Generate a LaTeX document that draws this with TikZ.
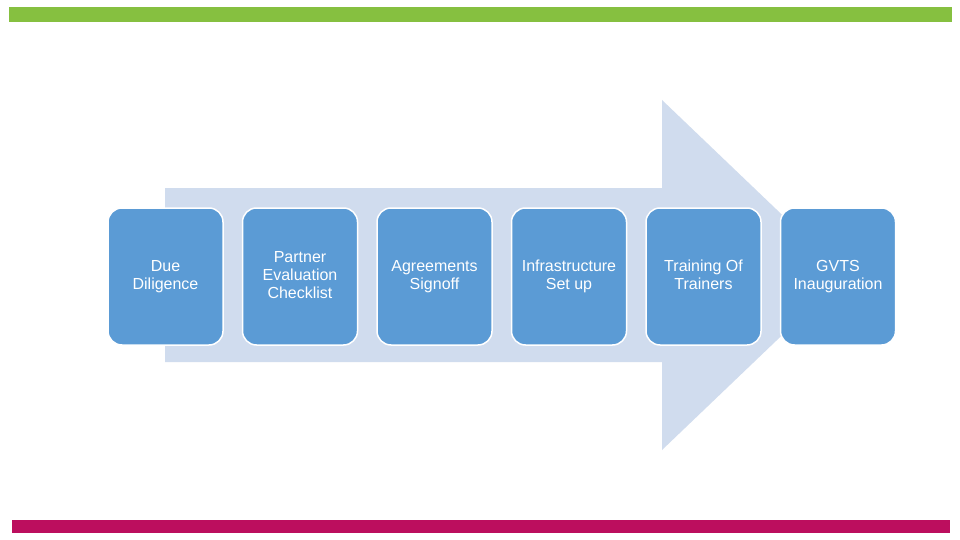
\documentclass[tikz,border=0pt]{standalone}
\usepackage{fontspec}
\setmainfont{Liberation Sans}
\definecolor{topgreen}{HTML}{86C040}
\definecolor{botmag}{HTML}{BC0E5E}
\definecolor{arrowbg}{HTML}{D0DCEE}
\definecolor{boxblue}{HTML}{5B9BD5}
\begin{document}
\begin{tikzpicture}[x=1pt,y=-1pt,
  stepbox/.style={draw=white, line width=1.5pt, fill=boxblue, rounded corners=14pt,
    minimum width=115pt, minimum height=137pt, inner sep=0pt, align=center,
    text=white, font=\fontsize{16}{18}\selectfont}]
\useasboundingbox (0,0) rectangle (960,540);
\fill[white] (0,0) rectangle (960,540);
\fill[topgreen] (9,7) rectangle (952,22);
\fill[botmag] (12,520) rectangle (950,533);
\fill[arrowbg] (165,188) -- (662,188) -- (662,100) -- (845,275) -- (662,450) -- (662,362) -- (165,362) -- cycle;
\node[stepbox] (s1) at (165.5,276.5) {\strut Due\\\strut Diligence};
\node[stepbox] (s2) at (300,276.5) {\strut Partner\\\strut Evaluation\\\strut Checklist};
\node[stepbox] (s3) at (434.5,276.5) {\strut Agreements\\\strut Signoff};
\node[stepbox] (s4) at (569,276.5) {\strut Infrastructure\\\strut Set up};
\node[stepbox] (s5) at (703.5,276.5) {\strut Training Of\\\strut Trainers};
\node[stepbox] (s6) at (838,276.5) {\strut GVTS\\\strut Inauguration};
\end{tikzpicture}
\end{document}
